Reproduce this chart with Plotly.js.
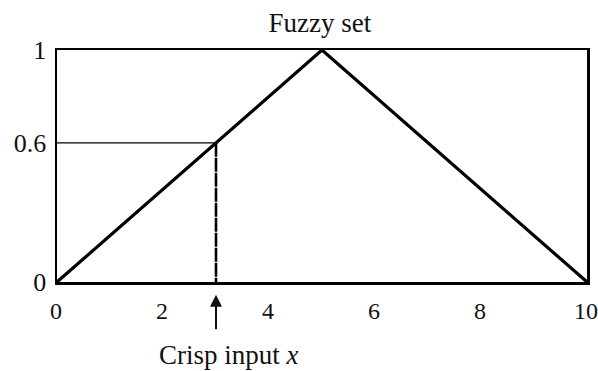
<!DOCTYPE html>
<html>
<head>
<meta charset="utf-8">
<script src="https://cdn.plot.ly/plotly-3.0.1.min.js"></script>
<style>html,body{margin:0;padding:0;background:#fff;}#chart{width:598px;height:371px;}</style>
</head>
<body>
<div id="chart"></div>
<script>
// Data
const setX = [0, 5, 10];
const setMembership = [0, 1, 0];
const crispInput = [3];
const crispMembership = [0.6];
const xTickVals = [0, 2, 4, 6, 8, 10];
const xTickText = ['0', '2', '4', '6', '8', '10'];
const yTickVals = [0, 0.6, 1];
const yTickText = ['0', '0.6', '1'];

const FONT = '"Liberation Serif", "Times New Roman", serif';
const FS = 27;

const traces = [
  {
    x: setX, y: setMembership, mode: 'lines', type: 'scatter',
    line: {color: '#000', width: 3.2}, cliponaxis: false, hoverinfo: 'skip'
  },
  {
    x: [0, crispInput[0]], y: [crispMembership[0], crispMembership[0]],
    mode: 'lines', type: 'scatter',
    line: {color: '#000', width: 1.2}, hoverinfo: 'skip'
  },
  {
    x: [crispInput[0], crispInput[0]], y: [crispMembership[0], 0],
    mode: 'lines', type: 'scatter',
    line: {color: '#000', width: 2.6, dash: '14px,1px'}, hoverinfo: 'skip'
  }
];

const layout = {
  width: 598, height: 371,
  margin: {l: 57, r: 11, t: 50, b: 89},
  paper_bgcolor: '#fff', plot_bgcolor: '#fff',
  showlegend: false,
  font: {family: FONT, size: FS, color: '#111'},
  title: {
    text: 'Fuzzy set', font: {family: FONT, size: FS, color: '#111'},
    x: 0.496, xref: 'paper', xanchor: 'center',
    y: 0.94, yref: 'container', yanchor: 'middle'
  },
  xaxis: {
    range: [0, 10], tickvals: xTickVals, ticktext: xTickText,
    showgrid: false, zeroline: false, ticks: '',
    showline: true, mirror: true, linecolor: '#000', linewidth: 2.5,
    tickfont: {family: FONT, size: 24, color: '#111'},
    ticklabelstandoff: 6, ticklabelshift: -1, ticklabeloverflow: 'allow', fixedrange: true
  },
  yaxis: {
    range: [0, 1], tickvals: yTickVals, ticktext: yTickText,
    showgrid: false, zeroline: false, ticks: '',
    showline: true, mirror: true, linecolor: '#000', linewidth: 2.5,
    tickfont: {family: FONT, size: 26, color: '#111'},
    ticklabelstandoff: 3, ticklabeloverflow: 'allow', fixedrange: true
  },
  annotations: [
    {
      x: crispInput[0], xref: 'x', y: -0.055, yref: 'paper',
      ax: 0, ay: 36, axref: 'pixel', ayref: 'pixel',
      showarrow: true, arrowhead: 2, arrowsize: 1.2, arrowwidth: 2, arrowcolor: '#111',
      text: ''
    },
    {
      x: crispInput[0] + 0.25, xref: 'x', y: -0.315, yref: 'paper',
      xanchor: 'center', yanchor: 'middle', showarrow: false,
      text: 'Crisp input <i>x</i>', font: {family: FONT, size: FS, color: '#111'}
    }
  ]
};

Plotly.newPlot('chart', traces, layout, {displayModeBar: false, staticPlot: true});
</script>
</body>
</html>
